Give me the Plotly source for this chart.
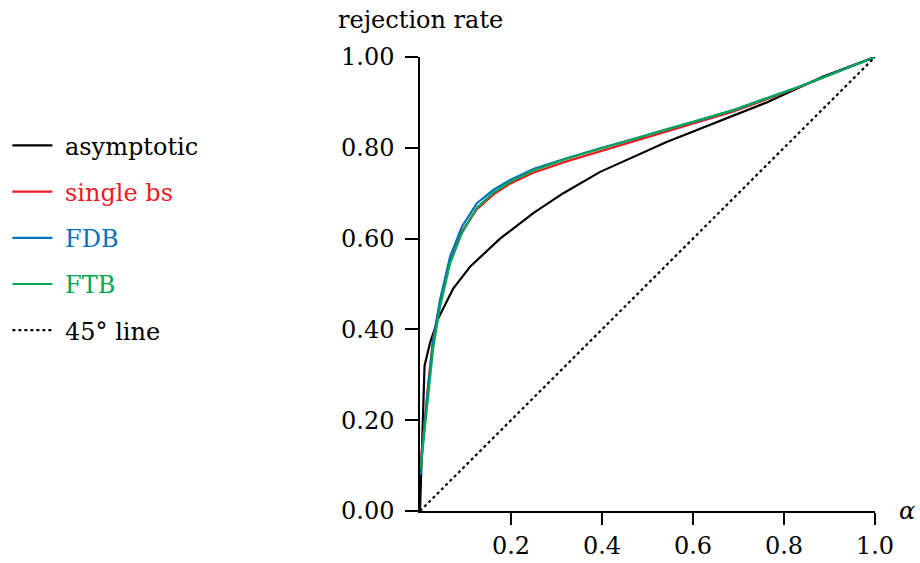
import plotly.graph_objects as go

# ---- data ----
alpha_asym = [0, 0.01, 0.022, 0.04, 0.073, 0.11, 0.176, 0.249, 0.315, 0.396, 0.542, 0.689, 0.762, 0.886, 1.0]
rate_asym = [0, 0.32, 0.37, 0.424, 0.49, 0.538, 0.60, 0.656, 0.70, 0.747, 0.813, 0.872, 0.90, 0.957, 1.0]

alpha_bs = [0.001, 0.007, 0.018, 0.029, 0.044, 0.066, 0.092, 0.125, 0.161, 0.198, 0.249, 0.322, 0.396,
            0.469, 0.542, 0.615, 0.689, 0.762, 0.835, 0.908, 1.0]
rate_single = [0.10, 0.17, 0.28, 0.38, 0.46, 0.55, 0.615, 0.665, 0.697, 0.721, 0.745, 0.770, 0.792,
               0.813, 0.836, 0.857, 0.880, 0.907, 0.934, 0.964, 1.0]
rate_fdb = [0.079, 0.156, 0.274, 0.377, 0.465, 0.56, 0.626, 0.678, 0.707, 0.729, 0.753, 0.777, 0.799,
            0.819, 0.841, 0.861, 0.883, 0.909, 0.935, 0.964, 1.0]
rate_ftb = [0.09, 0.15, 0.26, 0.36, 0.45, 0.545, 0.612, 0.668, 0.701, 0.725, 0.750, 0.776, 0.798,
            0.819, 0.841, 0.861, 0.883, 0.909, 0.935, 0.963, 1.0]

diag = [0, 1]

x_ticks = [0.2, 0.4, 0.6, 0.8, 1.0]
y_ticks = [0.0, 0.2, 0.4, 0.6, 0.8, 1.0]

names = ["asymptotic", "single bs", "FDB", "FTB", "45° line"]
colors = ["#000000", "#ED1C24", "#0072BC", "#00A651", "#000000"]

FONT = "DejaVu Serif"
FS = 24

fig = go.Figure()
series = [
    (alpha_asym, rate_asym, "solid"),
    (alpha_bs, rate_single, "solid"),
    (alpha_bs, rate_fdb, "solid"),
    (alpha_bs, rate_ftb, "solid"),
    (diag, diag, "dot"),
]
for i, (xs, ys, dash) in enumerate(series):
    fig.add_trace(go.Scatter(
        x=xs, y=ys, mode="lines",
        name=f"<span style='color:{colors[i]}'>&nbsp;{names[i]}</span>",
        legendgroup=f"g{i}",
        line=dict(color=colors[i], width=2.2, dash=dash),
        cliponaxis=False,
    ))

fig.update_layout(
    width=920, height=563,
    margin=dict(l=420, r=45, t=57, b=52),
    plot_bgcolor="white", paper_bgcolor="white",
    font=dict(family=FONT, size=FS, color="black"),
    showlegend=True,
    legend=dict(
        xref="container", yref="container",
        x=0.008, y=0.781, xanchor="left", yanchor="top",
        font=dict(family=FONT, size=FS),
        tracegroupgap=12,
        itemwidth=40,
        bgcolor="rgba(0,0,0,0)",
    ),
    xaxis=dict(
        range=[0, 1], tickvals=x_ticks, tickformat=".1f",
        showline=True, linecolor="black", linewidth=1.5,
        ticks="outside", ticklen=12, tickwidth=1.5, tickcolor="black",
        showgrid=False, zeroline=False, automargin=False, ticklabelstandoff=0,
    ),
    yaxis=dict(
        range=[0, 1], tickvals=y_ticks, tickformat=".2f",
        showline=True, linecolor="black", linewidth=1.5,
        ticks="outside", ticklen=13, tickwidth=1.5, tickcolor="black",
        showgrid=False, zeroline=False, ticklabelstandoff=6, automargin=False,
    ),
    annotations=[
        dict(text="rejection rate", xref="x", yref="paper", x=0.0, y=1.0,
             yshift=37, showarrow=False, xanchor="center", yanchor="middle",
             font=dict(family=FONT, size=FS)),
        dict(text="<i>α</i>", xref="paper", yref="y", x=1.0, y=0.0,
             xshift=32, showarrow=False, xanchor="center", yanchor="middle",
             font=dict(family=FONT, size=FS)),
    ],
)

fig.write_html("out.html")
